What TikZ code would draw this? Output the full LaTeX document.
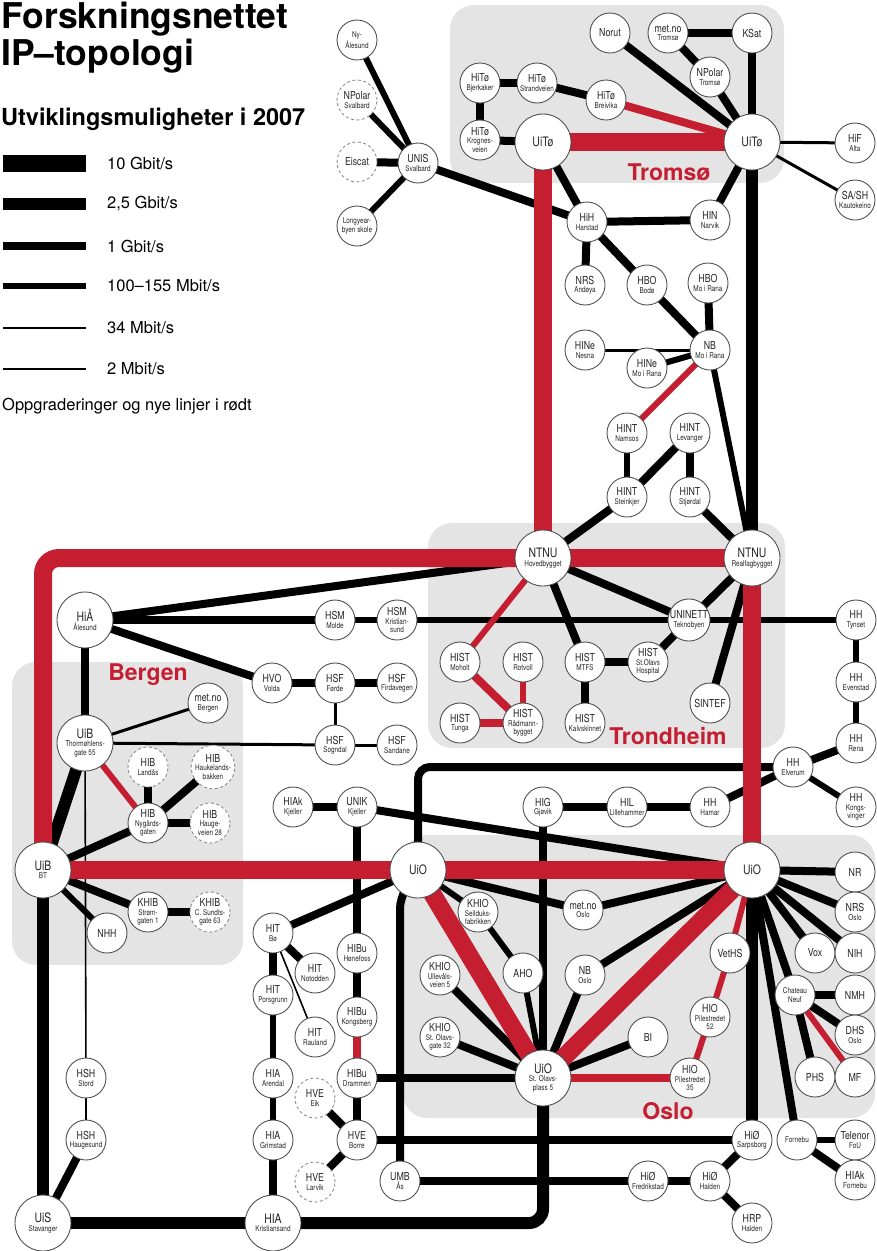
\documentclass[tikz,border=0pt]{standalone}
\usepackage{fontspec}
\setmainfont{TeX Gyre Heros}
\newfontfamily\condf[FakeStretch=0.8]{TeX Gyre Heros}
\definecolor{netred}{RGB}{196,30,48}
\definecolor{boxgrey}{RGB}{228,228,228}
\definecolor{rimgrey}{RGB}{80,80,80}
\newcommand\sitefont{\condf\fontsize{8}{8.4}\selectfont}
\newcommand\nm[1]{{\fontsize{11}{10.5}\selectfont #1}}
\newcommand\bnm[1]{{\fontsize{13}{12.5}\selectfont #1}}
\pgfdeclarelayer{boxes}
\pgfdeclarelayer{links}
\pgfsetlayers{boxes,links,main}

\begin{document}
\begin{tikzpicture}[x=1pt,y=-1pt,
    site/.style={circle,draw=rimgrey,line width=0.9pt,fill=white,minimum size=40pt,inner sep=0pt,align=center,font=\sitefont,text=black!85},
    big/.style={site,minimum size=56pt},
    plan/.style={site,draw=black!45,dash pattern=on 3pt off 2.5pt},
    region/.style={fill=boxgrey,rounded corners=24pt},
    cityname/.style={text=netred,font=\fontsize{23}{23}\selectfont\bfseries,inner sep=0pt},
    g10/.style={line width=18pt},
    g25/.style={line width=12pt},
    g1/.style={line width=8pt},
    m100/.style={line width=6pt},
    m34/.style={line width=3pt},
    m2/.style={line width=1.6pt},
    upg/.style={draw=netred}]
  \useasboundingbox (0,0) rectangle (876,1251);

  % title and legend
  \node[anchor=base west,inner sep=0pt,font=\fontsize{35.5}{35}\selectfont\bfseries] (title) at (1,28) {Forskningsnettet};
  \node[anchor=base west,inner sep=0pt,font=\fontsize{35.5}{35}\selectfont\bfseries] (title2) at (1,65) {IP–topologi};
  \node[anchor=base west,inner sep=0pt,font=\fontsize{23.5}{23}\selectfont\bfseries] (subtitle) at (1,125) {Utviklingsmuligheter i 2007};
  \foreach \w/\y/\t [count=\i] in {17/163/{10 Gbit/s}, 12/204/{2,5 Gbit/s}, 8/246/{1 Gbit/s}, 6/286/{100–155 Mbit/s}, 2.5/328/{34 Mbit/s}, 1.6/369/{2 Mbit/s}} {
    \draw[line width=\w pt] (3,\y) -- (86,\y);
    \node[anchor=west,inner sep=0pt,font=\fontsize{16.5}{16.5}\selectfont] (leg\i) at (107,\y) {\t};
  }
  \node[anchor=base west,inner sep=0pt,font=\fontsize{16.5}{16.5}\selectfont] (legred) at (2,410) {Oppgraderinger og nye linjer i rødt};

  % regions
  \begin{pgfonlayer}{boxes}
    \fill[region] (450,5) rectangle (784,183);
    \fill[region] (428,523) rectangle (785,748);
    \fill[region] (12,662) rectangle (243,965);
    \fill[region] (403,835) rectangle (875,1118);
  \end{pgfonlayer}
  \node[cityname] (tromso) at (669,172) {Tromsø};
  \node[cityname] (trondheim) at (668,736) {Trondheim};
  \node[cityname] (bergen) at (148,675) {Bergen};
  \node[cityname] (oslo) at (668,1111) {Oslo};

  % north
  \node[site] (nyal) at (357,40) {Ny-\\Ålesund};
  \node[plan] (npsv) at (357,100) {\nm{NPolar}\\Svalbard};
  \node[plan] (eiscat) at (357,162) {\nm{Eiscat}};
  \node[site] (unis) at (418,163) {\nm{UNIS}\\Svalbard};
  \node[site] (longyr) at (357,226) {Longyear-\\byen skole};
  \node[site] (hitobj) at (480,83) {\nm{HiTø}\\Bjerkaker};
  \node[site] (hitost) at (537,83) {\nm{HiTø}\\Strandveien};
  \node[site] (hitobr) at (606,100) {\nm{HiTø}\\Breivika};
  \node[site] (hitokr) at (480,140) {\nm{HiTø}\\Krognes-\\veien};
  \node[big] (uitoA) at (543,142) {\bnm{UiTø}};
  \node[big] (uitoB) at (752,142) {\bnm{UiTø}};
  \node[site] (norut) at (610,33) {\nm{Norut}};
  \node[site] (metto) at (668,33) {\nm{met.no}\\Tromsø};
  \node[site] (ksat) at (752,33) {\nm{KSat}};
  \node[site] (nptro) at (710,77) {\nm{NPolar}\\Tromsø};
  \node[site] (hif) at (855,143) {\nm{HiF}\\Alta};
  \node[site] (sash) at (855,200) {\nm{SA/SH}\\Kautokeino};
  \node[site] (hih) at (587,222) {\nm{HiH}\\Harstad};
  \node[site] (hin) at (710,220) {\nm{HIN}\\Narvik};
  \node[site] (nrs) at (585,285) {\nm{NRS}\\Andøya};
  \node[site] (hbobo) at (647,285) {\nm{HBO}\\Bodø};
  \node[site] (hbomo) at (708,283) {\nm{HBO}\\Mo i Rana};
  \node[site] (hinene) at (585,350) {\nm{HINe}\\Nesna};
  \node[site] (hinemo) at (647,368) {\nm{HINe}\\Mo i Rana};
  \node[site] (nbmo) at (710,350) {\nm{NB}\\Mo i Rana};
  \node[site] (hintna) at (627,433) {\nm{HINT}\\Namsos};
  \node[site] (hintle) at (690,433) {\nm{HINT}\\Levanger};
  \node[site] (hintst) at (627,497) {\nm{HINT}\\Steinkjer};
  \node[site] (hintsj) at (690,497) {\nm{HINT}\\Stjørdal};

  % trondheim
  \node[big] (ntnuh) at (543,558) {\bnm{NTNU}\\Hovedbygget};
  \node[big] (ntnur) at (752,558) {\bnm{NTNU}\\Realfagbygget};
  \node[site] (uninett) at (689,620) {\nm{UNINETT}\\Teknobyen};
  \node[site] (histmo) at (460,662) {\nm{HIST}\\Moholt};
  \node[site] (histro) at (523,662) {\nm{HIST}\\Rotvoll};
  \node[site] (histmt) at (585,662) {\nm{HIST}\\MTFS};
  \node[site] (histso) at (648,662) {\nm{HIST}\\St.Olavs\\Hospital};
  \node[site] (sintef) at (710,703) {\nm{SINTEF}};
  \node[site] (histtu) at (460,723) {\nm{HIST}\\Tunga};
  \node[site] (histra) at (523,723) {\nm{HIST}\\Rådmann-\\bygget};
  \node[site] (histka) at (585,723) {\nm{HIST}\\Kalvskinnet};

  % west
  \node[big] (hiaa) at (85,620) {\bnm{HiÅ}\\Ålesund};
  \node[site] (hsmmo) at (335,620) {\nm{HSM}\\Molde};
  \node[site] (hsmkr) at (397,620) {\nm{HSM}\\Kristian-\\sund};
  \node[site] (hvo) at (272,683) {\nm{HVO}\\Volda};
  \node[site] (hsffo) at (335,683) {\nm{HSF}\\Førde};
  \node[site] (hsffi) at (397,683) {\nm{HSF}\\Firdavegen};
  \node[site] (hsfso) at (335,745) {\nm{HSF}\\Sogndal};
  \node[site] (hsfsa) at (397,745) {\nm{HSF}\\Sandane};
  \node[site] (metbg) at (208,703) {\nm{met.no}\\Bergen};
  \node[big] (uibth) at (85,743) {\bnm{UiB}\\Thormøhlens-\\gate 55};
  \node[plan] (hibla) at (148,767) {\nm{HIB}\\Landås};
  \node[plan] (hibha) at (213,767) {\nm{HIB}\\Haukelands-\\bakken};
  \node[site] (hibny) at (148,823) {\nm{HIB}\\Nygårds-\\gaten};
  \node[plan] (hibhg) at (210,823) {\nm{HIB}\\Hauge-\\veien 28};
  \node[big] (uibbt) at (43,870) {\bnm{UiB}\\BT};
  \node[site] (khibst) at (148,912) {\nm{KHIB}\\Strøm-\\gaten 1};
  \node[plan] (khibcs) at (210,912) {\nm{KHIB}\\C. Sundts-\\gate 63};
  \node[site] (nhh) at (107,933) {\nm{NHH}};
  \node[site] (hshst) at (86,1078) {\nm{HSH}\\Stord};
  \node[site] (hshha) at (86,1140) {\nm{HSH}\\Haugesund};
  \node[big] (uis) at (43,1223) {\bnm{UiS}\\Stavanger};

  % inland
  \node[site] (hhty) at (856,620) {\nm{HH}\\Tynset};
  \node[site] (hhev) at (856,682) {\nm{HH}\\Evenstad};
  \node[site] (hhre) at (856,743) {\nm{HH}\\Rena};
  \node[site] (hhel) at (793,767) {\nm{HH}\\Elverum};
  \node[site] (hhko) at (856,807) {\nm{HH}\\Kongs-\\vinger};
  \node[site] (hig) at (543,807) {\nm{HIG}\\Gjøvik};
  \node[site] (hil) at (627,807) {\nm{HIL}\\Lillehammer};
  \node[site] (hhha) at (710,807) {\nm{HH}\\Hamar};
  \node[site] (hiakj) at (293,807) {\nm{HIAk}\\Kjeller};
  \node[site] (unik) at (357,807) {\nm{UNIK}\\Kjeller};

  % south
  \node[big] (uioA) at (418,870) {\bnm{UiO}};
  \node[big] (uioB) at (752,870) {\bnm{UiO}};
  \node[site] (hitbo) at (273,933) {\nm{HIT}\\Bø};
  \node[site] (hitno) at (315,973) {\nm{HIT}\\Notodden};
  \node[site] (hitpo) at (273,995) {\nm{HIT}\\Porsgrunn};
  \node[site] (hitra) at (315,1037) {\nm{HIT}\\Rauland};
  \node[site] (hibuho) at (357,953) {\nm{HIBu}\\Hønefoss};
  \node[site] (hibuko) at (357,1017) {\nm{HIBu}\\Kongsberg};
  \node[site] (hibudr) at (357,1078) {\nm{HIBu}\\Drammen};
  \node[site] (hiaar) at (273,1078) {\nm{HIA}\\Arendal};
  \node[site] (hiagr) at (273,1140) {\nm{HIA}\\Grimstad};
  \node[big] (hiakr) at (273,1223) {\bnm{HIA}\\Kristiansand};
  \node[plan] (hveei) at (315,1098) {\nm{HVE}\\Eik};
  \node[site] (hvebo) at (357,1140) {\nm{HVE}\\Borre};
  \node[plan] (hvela) at (315,1182) {\nm{HVE}\\Larvik};
  \node[site] (umb) at (400,1181) {\nm{UMB}\\Ås};
  \node[site] (khiose) at (478,912) {\nm{KHIO}\\Seilduks-\\fabrikken};
  \node[site] (aho) at (523,973) {\nm{AHO}};
  \node[site] (khioul) at (440,975) {\nm{KHIO}\\Ullevåls-\\veien 5};
  \node[site] (khiost) at (440,1037) {\nm{KHIO}\\St. Olavs-\\gate 32};
  \node[big] (uiost) at (543,1078) {\bnm{UiO}\\St. Olavs-\\plass 5};
  \node[site] (metos) at (583,910) {\nm{met.no}\\Oslo};
  \node[site] (nbos) at (585,975) {\nm{NB}\\Oslo};
  \node[site] (bi) at (648,1037) {\nm{BI}};
  \node[site] (vet) at (730,953) {\nm{VetHS}};
  \node[site] (hio52) at (710,1017) {\nm{HIO}\\Pilestredet\\52};
  \node[site] (hio35) at (690,1078) {\nm{HIO}\\Pilestredet\\35};
  \node[site] (nr) at (855,872) {\nm{NR}};
  \node[site] (nrsos) at (855,912) {\nm{NRS}\\Oslo};
  \node[site] (vox) at (815,953) {\nm{Vox}};
  \node[site] (nih) at (855,953) {\nm{NIH}};
  \node[site] (chat) at (795,995) {Chateau\\Neuf};
  \node[site] (nmh) at (855,995) {\nm{NMH}};
  \node[site] (dhs) at (855,1035) {\nm{DHS}\\Oslo};
  \node[site] (phs) at (815,1077) {\nm{PHS}};
  \node[site] (mf) at (855,1077) {\nm{MF}};
  \node[site] (hiosa) at (752,1140) {\nm{HiØ}\\Sarpsborg};
  \node[site] (forn) at (797,1140) {Fornebu};
  \node[site] (tel) at (855,1140) {\nm{Telenor}\\FoU};
  \node[site] (hiofr) at (648,1181) {\nm{HiØ}\\Fredrikstad};
  \node[site] (hioha) at (710,1181) {\nm{HiØ}\\Halden};
  \node[site] (hrp) at (752,1223) {\nm{HRP}\\Halden};
  \node[site] (hiakfo) at (855,1180) {\nm{HIAk}\\Fornebu};

  % links
  \begin{pgfonlayer}{links}
    \foreach \a/\b in {uitoB/ntnur, uibth/uibbt, uibbt/uis, uis/hiakr, uioB/hiosa}
      \draw[g25] (\a.center) -- (\b.center);
    \foreach \a/\b in {eiscat/unis, unis/hih, hitobj/hitost, hitost/hitobr, hitobj/hitokr, hitokr/uitoA,
        norut/uitoB, metto/ksat, metto/nptro, nptro/uitoB, ksat/uitoB, uitoB/hin, uitoA/hih, hih/hin,
        hih/nrs, hih/hbobo, hbobo/nbmo, hbomo/nbmo, hintst/hintle, hintle/hintsj, hintsj/ntnur, hintst/ntnuh,
        ntnuh/histmt, histmt/histso, histmt/histka, histso/uninett, ntnuh/uninett, ntnur/uninett, ntnur/sintef,
        hiaa/ntnuh, hiaa/hsmmo, hiaa/hvo, hiaa/uibth, hvo/hsffo, hsffo/hsffi, hibla/hibny, hibha/hibny,
        hibny/hibhg, uibbt/hibny, uibbt/khibst, khibst/khibcs, hshha/uis, hhre/hhel, hhel/hhha, hhha/hil,
        hil/hig, hig/uiost, hiakj/unik, unik/uioB, unik/hibuho, hitbo/uioA, hitbo/hitno, hitbo/hitpo,
        hiagr/hiakr, hibuho/hibuko, hibudr/hvebo, hvebo/hveei, hvebo/hvela, hibudr/uiost, hvebo/hiosa,
        umb/hiofr, khioul/uiost, khiost/uiost, uioA/metos, metos/uioB, uioB/nbos, nbos/uiost, bi/uiost,
        uioB/nr, uioB/nrsos, uioB/nih, uioB/vox, uioB/chat, uioB/forn, chat/nmh, chat/dhs, chat/phs,
        forn/hiakfo, hiosa/hioha, hioha/hiofr, hioha/hrp}
      \draw[g1] (\a.center) -- (\b.center);
    \foreach \a/\b in {nyal/unis, npsv/unis, longyr/unis, hinemo/nbmo, nbmo/ntnur, hintna/hintst,
        hsmmo/hsmkr, hsmkr/uninett, uninett/hhty, uibbt/nhh, hhty/hhev, hhev/hhre, hhel/hhko,
        hitpo/hiaar, hiaar/hiagr, uioA/khiose, khiose/aho, aho/uiost, forn/tel}
      \draw[m100] (\a.center) -- (\b.center);
    \foreach \a/\b in {uitoB/hif, uitoB/sash, hinene/nbmo, hsffo/hsfso, hsfso/hsfsa, uibth/hsfso, uibth/metbg}
      \draw[m34] (\a.center) -- (\b.center);
    \foreach \a/\b in {uibth/hshst, hshst/hshha, hitbo/hitra}
      \draw[m2] (\a.center) -- (\b.center);
    \draw[g1,rounded corners=12pt] (hhel.center) -| (uioA.center);
    \draw[g1,rounded corners=10pt] (umb.center) -- (umb.center |- uioA.south) -- (uioA.center);
    \draw[g25,rounded corners=14pt] (uiost.center) |- (hiakr.center);
    % upgrades in red
    \foreach \a/\b in {nbmo/hintna, ntnuh/histmo, histro/histra, uibth/hibny, uioB/vet, vet/hio52, hio52/hio35, chat/mf}
      \draw[m100,upg] (\a.center) -- (\b.center);
    \foreach \a/\b in {hitobr/uitoB, histmo/histra, histtu/histra, hio35/uiost, hibuko/hibudr}
      \draw[g1,upg] (\a.center) -- (\b.center);
    \foreach \a/\b in {uitoA/uitoB, uitoA/ntnuh, ntnuh/ntnur, ntnur/uioB, uibbt/uioA, uioA/uioB, uioA/uiost, uioB/uiost}
      \draw[g10,upg] (\a.center) -- (\b.center);
    \draw[g10,upg,rounded corners=16pt] (ntnuh.center) -| (uibbt.center);
  \end{pgfonlayer}
\end{tikzpicture}
\end{document}
